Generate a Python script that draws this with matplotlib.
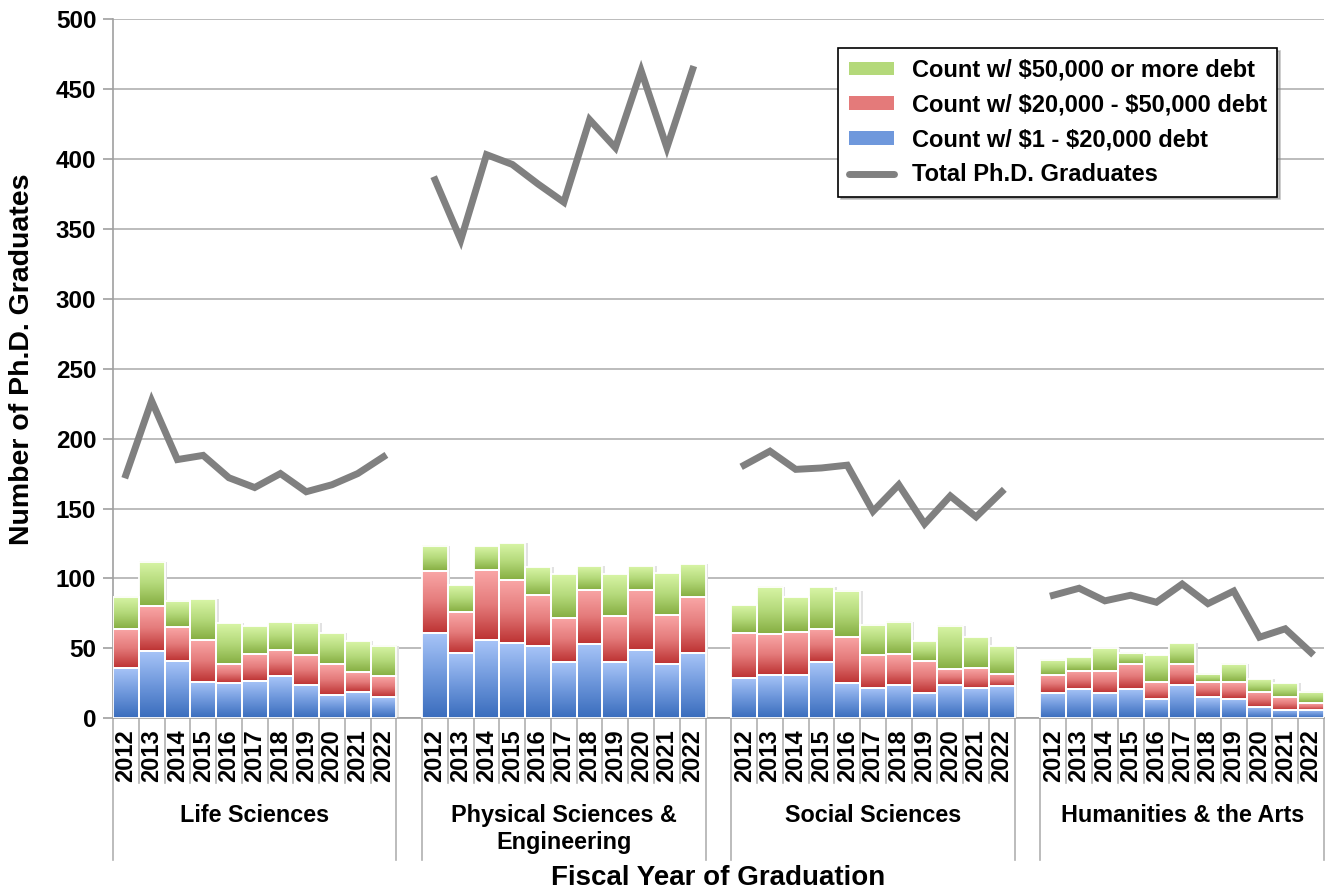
import numpy as np
import matplotlib.pyplot as plt
from matplotlib.colors import LinearSegmentedColormap
from matplotlib.patches import Patch
from matplotlib.lines import Line2D
import matplotlib.transforms as mtransforms

plt.rcParams['font.family'] = ['Liberation Sans', 'DejaVu Sans']
plt.rcParams['font.weight'] = 'bold'

# data
years = ['2012', '2013', '2014', '2015', '2016', '2017', '2018', '2019', '2020', '2021', '2022']
fields = ['Life Sciences', 'Physical Sciences &\nEngineering', 'Social Sciences', 'Humanities & the Arts']

low_debt = [  # $1 - $20,000
    [36, 48, 41, 26, 25, 27, 30, 24, 17, 19, 15],
    [61, 47, 56, 54, 52, 40, 53, 40, 49, 39, 47],
    [29, 31, 31, 40, 25, 22, 24, 18, 24, 22, 23],
    [18, 21, 18, 21, 14, 24, 15, 14, 8, 6, 6],
]
mid_debt = [  # $20,000 - $50,000
    [28, 32, 24, 30, 14, 19, 19, 21, 22, 14, 15],
    [44, 29, 50, 45, 36, 32, 39, 33, 43, 35, 40],
    [32, 29, 31, 24, 33, 23, 22, 23, 11, 14, 9],
    [13, 13, 16, 18, 12, 15, 11, 12, 11, 9, 5],
]
high_debt = [  # $50,000 or more
    [23, 32, 19, 29, 29, 20, 20, 23, 22, 22, 22],
    [18, 19, 17, 26, 20, 31, 17, 30, 17, 30, 23],
    [20, 34, 25, 30, 33, 22, 23, 14, 31, 22, 20],
    [11, 10, 16, 8, 19, 15, 6, 13, 9, 10, 8],
]
totals = [
    [174, 227, 185, 188, 172, 165, 175, 162, 167, 175, 187],
    [385, 342, 403, 396, 382, 369, 428, 408, 463, 408, 464],
    [181, 191, 178, 179, 181, 148, 167, 139, 159, 144, 162],
    [88, 93, 84, 88, 83, 96, 82, 91, 58, 64, 47],
]

cmaps = {
    'low': LinearSegmentedColormap.from_list('b', ['#3a6dbd', '#6f98dc', '#a8c5f8']),
    'mid': LinearSegmentedColormap.from_list('r', ['#bd3333', '#e47a7a', '#f9a6a6']),
    'high': LinearSegmentedColormap.from_list('g', ['#86ae42', '#b4d97a', '#d8f5a6']),
}
grad = np.linspace(0, 1, 64).reshape(-1, 1)

fig = plt.figure(figsize=(13.26, 8.92), dpi=100)
ax = fig.add_axes([0.0852, 0.1947, 0.9132, 0.7840])

n = len(years)
step = n + 1
xticks, xlabels = [], []
for g in range(len(fields)):
    x = np.arange(n) + g * step
    xticks += list(x)
    xlabels += years
    bottom = np.zeros(n)
    for key, vals in (('low', low_debt[g]), ('mid', mid_debt[g]), ('high', high_debt[g])):
        vals = np.array(vals, dtype=float)
        bars = ax.bar(x, vals, width=1.0, bottom=bottom, facecolor='none',
                      edgecolor='white', linewidth=1.3, zorder=4)
        for p in bars:
            x0, y0, w, h = p.get_x(), p.get_y(), p.get_width(), p.get_height()
            # soft shadow on the right
            ax.add_patch(plt.Rectangle((x0 + w, y0), 0.1, h, facecolor='#e2e2e2',
                                       edgecolor='none', zorder=2))
            ax.imshow(grad, cmap=cmaps[key], extent=[x0, x0 + w, y0, y0 + h],
                      origin='lower', aspect='auto', zorder=3, interpolation='bilinear')
        bottom += vals
    ax.plot(x, totals[g], color='#808080', lw=5, solid_joinstyle='miter', zorder=5)

ax.set_xlim(-0.5, len(fields) * step - 1.5)
ax.set_ylim(0, 500)
ax.set_yticks(np.arange(0, 501, 50))
ax.tick_params(axis='y', labelsize=17.5, length=7, color='#a0a0a0', width=1.2, pad=5)
ax.set_xticks(xticks)
ax.set_xticklabels(xlabels, rotation=90, fontsize=17)
ax.tick_params(axis='x', length=0, pad=8)
ax.grid(axis='y', color='#b0b0b0', lw=1.2, zorder=0)
ax.set_axisbelow(True)
for s in ['top', 'right']:
    ax.spines[s].set_visible(False)
for s in ['left', 'bottom']:
    ax.spines[s].set_color('#a0a0a0')
    ax.spines[s].set_linewidth(1.2)

# category dividers below the axis
trans = mtransforms.blended_transform_factory(ax.transData, ax.transAxes)
for g in range(len(fields)):
    start = g * step
    for k in range(n + 1):
        xb = start - 0.5 + k
        end = -0.202 if k in (0, n) else -0.092
        ax.plot([xb, xb], [0, end], transform=trans, color='#b0b0b0', lw=1.2,
                clip_on=False, zorder=1)
    ax.text(start + (n - 1) / 2, -0.123, fields[g], transform=trans, ha='center',
            va='top', fontsize=16.8, fontweight='bold', linespacing=1.2)

ax.set_ylabel('Number of Ph.D. Graduates', fontsize=20.5, fontweight='bold')
ax.yaxis.set_label_coords(-0.064, 0.514)
ax.text(0.5, -0.229, 'Fiscal Year of Graduation', transform=ax.transAxes, ha='center',
        va='center', fontsize=20, fontweight='bold')

handles = [
    Patch(facecolor='#b4d97a', edgecolor='none', label='Count w/ \\$50,000 or more debt'),
    Patch(facecolor='#e47a7a', edgecolor='none', label='Count w/ \\$20,000 - \\$50,000 debt'),
    Patch(facecolor='#6f98dc', edgecolor='none', label='Count w/ \\$1 - \\$20,000 debt'),
    Line2D([0], [0], color='#808080', lw=5, solid_capstyle='round', label='Total Ph.D. Graduates'),
]
leg = ax.legend(handles=handles, loc='upper left', bbox_to_anchor=(0.599, 0.9585),
                borderaxespad=0, fontsize=17, frameon=True, fancybox=False,
                handlelength=1.9, handleheight=0.5, labelspacing=0.5,
                borderpad=0.45, handletextpad=0.75,
                shadow={'color': '0.55', 'alpha': 0.5})
leg.get_frame().set_edgecolor('black')
leg.get_frame().set_linewidth(1.2)
leg.set_zorder(10)

fig.savefig('out.png', dpi=100)
